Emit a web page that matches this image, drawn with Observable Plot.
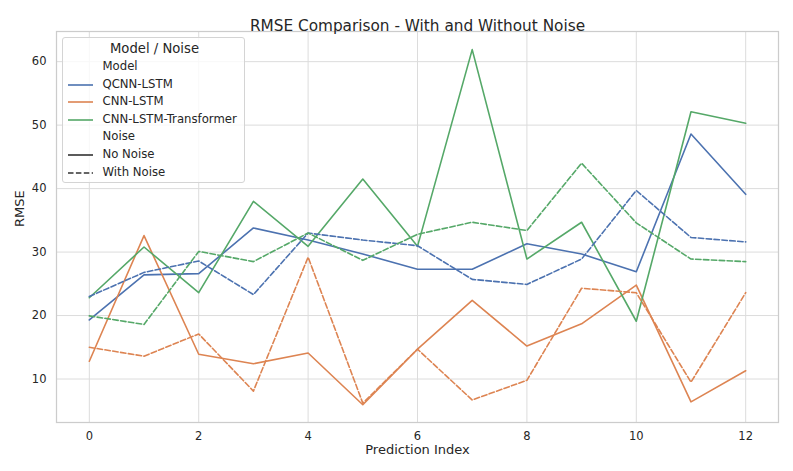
<!DOCTYPE html>
<html>
<head>
<meta charset="utf-8">
<script src="https://cdn.jsdelivr.net/npm/d3@7"></script>
<script src="https://cdn.jsdelivr.net/npm/@observablehq/plot@0.6"></script>
<style>
  html, body { margin: 0; padding: 0; background: white; }
  #wrap { position: relative; width: 793px; height: 471px; font-family: "DejaVu Sans", sans-serif; color: #262626; }
  #legend { position: absolute; left: 62px; top: 37px; width: 183px; height: 146px; box-sizing: border-box;
            border: 1px solid #d4d4d4; border-radius: 3px; background: rgba(255,255,255,0.8); }
  .lg { position: absolute; white-space: nowrap; transform: translateY(-50%); line-height: 1; }
  .sw { position: absolute; width: 25px; height: 0; transform: translateY(-50%); }
</style>
</head>
<body>
<div id="wrap"><div id="chart"></div><div id="legend"></div></div>
<script>
const indices = [0,1,2,3,4,5,6,7,8,9,10,11,12];
const models = ["QCNN-LSTM", "CNN-LSTM", "CNN-LSTM-Transformer"];
const noises = ["No Noise", "With Noise"];
const colors = ["#4C72B0", "#DD8452", "#55A868"];
const xTicks = [0,2,4,6,8,10,12];
const yTicks = [10,20,30,40,50,60];

const qcnnNoNoise   = [19.3, 26.4, 26.6, 33.8, 31.9, 29.7, 27.3, 27.3, 31.3, 29.7, 26.9, 48.6, 39.1];
const qcnnWithNoise = [23.0, 26.8, 28.6, 23.3, 33.0, 31.9, 31.0, 25.7, 24.9, 28.9, 39.7, 32.3, 31.6];
const cnnNoNoise    = [12.8, 32.6, 13.9, 12.4, 14.1, 5.95, 14.7, 22.4, 15.2, 18.7, 24.8, 6.4, 11.3];
const cnnWithNoise  = [15.0, 13.6, 17.1, 8.1, 29.2, 6.2, 14.7, 6.7, 9.8, 24.3, 23.6, 9.5, 23.6];
const transNoNoise  = [22.8, 30.8, 23.6, 38.0, 30.9, 41.5, 30.9, 61.9, 28.9, 34.7, 19.1, 52.1, 50.3];
const transWithNoise= [19.95, 18.6, 30.1, 28.5, 33.0, 28.7, 32.8, 34.7, 33.4, 44.0, 34.6, 28.9, 28.5];

const series = [
  [models[0], noises[0], qcnnNoNoise],
  [models[0], noises[1], qcnnWithNoise],
  [models[1], noises[0], cnnNoNoise],
  [models[1], noises[1], cnnWithNoise],
  [models[2], noises[0], transNoNoise],
  [models[2], noises[1], transWithNoise]
];
const rows = series.flatMap(([model, noise, vals]) => vals.map((v, i) => ({index: indices[i], model, noise, rmse: v})));

const txt = "#262626";
const chart = Plot.plot({
  width: 793, height: 471,
  marginLeft: 56, marginRight: 15, marginTop: 31, marginBottom: 49,
  style: {fontFamily: "DejaVu Sans, sans-serif", fontSize: "11.5px", color: txt, background: "white", overflow: "visible"},
  x: {domain: [-0.6, 12.6]},
  y: {domain: [3.15, 64.75]},
  color: {domain: models, range: colors},
  marks: [
    Plot.gridX(xTicks, {stroke: "#dcdcdc", strokeOpacity: 1, strokeWidth: 1}),
    Plot.gridY(yTicks, {stroke: "#dcdcdc", strokeOpacity: 1, strokeWidth: 1}),
    Plot.frame({stroke: "#cccccc", strokeWidth: 1.25}),
    Plot.axisX(xTicks, {tickSize: 0, tickPadding: 9, label: null, fontSize: 11.5, fill: txt}),
    Plot.axisY(yTicks, {tickSize: 0, tickPadding: 10, label: null, fontSize: 11.5, fill: txt}),
    Plot.line(rows.filter(d => d.noise === noises[0]), {x: "index", y: "rmse", z: "model", stroke: "model", strokeWidth: 1.6}),
    Plot.line(rows.filter(d => d.noise === noises[1]), {x: "index", y: "rmse", z: "model", stroke: "model", strokeWidth: 1.6, strokeDasharray: "5.5,2.4"}),
    Plot.text(["RMSE Comparison - With and Without Noise"], {frameAnchor: "top", dy: -11, fontSize: 15.3, fill: txt}),
    Plot.text(["Prediction Index"], {frameAnchor: "bottom", dy: 31.5, fontSize: 13, fill: txt}),
    Plot.text(["RMSE"], {frameAnchor: "left", dx: -37, rotate: -90, fontSize: 13, fill: txt})
  ]
});
document.getElementById("chart").appendChild(chart);

// legend
const lg = document.getElementById("legend");
const offX = 62, offY = 37;
function addText(s, x, y, size, anchorCenter) {
  const d = document.createElement("div");
  d.className = "lg";
  d.textContent = s;
  d.style.fontSize = size + "px";
  d.style.top = (y - offY) + "px";
  d.style.left = (x - offX) + "px";
  if (anchorCenter) d.style.transform = "translate(-50%,-50%)";
  lg.appendChild(d);
}
function addSwatch(y, color, dashed) {
  const s = document.createElement("div");
  s.className = "sw";
  s.style.left = (67 - offX) + "px";
  s.style.top = (y - offY) + "px";
  s.innerHTML = `<svg width="25" height="4" style="position:absolute;top:-2px;left:0"><line x1="0" y1="2" x2="25" y2="2" stroke="${color}" stroke-width="1.6" ${dashed ? 'stroke-dasharray="5.5,2.4"' : ''}/></svg>`;
  lg.appendChild(s);
}
const rowY = [66, 83.6, 101.2, 118.8, 136.4, 154, 171.6];
addText("Model / Noise", 153.5, 47.5, 13.2, true);
addText("Model", 101.5, rowY[0], 11.7);
models.forEach((m, i) => { addSwatch(rowY[1 + i], colors[i], false); addText(m, 101.5, rowY[1 + i], 11.7); });
addText("Noise", 101.5, rowY[4], 11.7);
addSwatch(rowY[5], "#333333", false); addText(noises[0], 101.5, rowY[5], 11.7);
addSwatch(rowY[6], "#333333", true); addText(noises[1], 101.5, rowY[6], 11.7);
</script>
</body>
</html>
